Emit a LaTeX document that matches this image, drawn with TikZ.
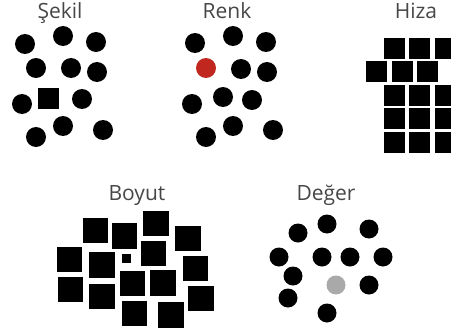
\documentclass[tikz,border=0pt]{standalone}
\usepackage{fontspec}
\setmainfont{Open Sans}
\begin{document}
\begin{tikzpicture}[x=1pt,y=-1pt,
  dot/.style={circle,fill=black,inner sep=0pt,minimum size=#1},
  dot/.default=20pt,
  sqbox/.style={rectangle,fill=black,inner sep=0pt,minimum size=#1},
  sqbox/.default=21pt,
  lbl/.style={font=\fontsize{21}{24}\selectfont,text=black!72,inner sep=0pt,anchor=base}]
\useasboundingbox (0,0) rectangle (451,335);
\clip (0,0) rectangle (451,335);
\definecolor{redc}{HTML}{C0271F}
\definecolor{grayc}{HTML}{A9A9A9}
% Sekil
\node[lbl] (t1) at (60,18.5) {Şekil};
\node[dot] (s1) at (25,44) {};
\node[dot] (s2) at (63,36) {};
\node[dot] (s3) at (96,42) {};
\node[dot] (s4) at (36,68) {};
\node[dot] (s5) at (71,68) {};
\node[dot] (s6) at (97,72) {};
\node[dot] (s7) at (22,104) {};
\node[sqbox] (s8) at (48,98) {};
\node[dot] (s9) at (82,99) {};
\node[dot] (s10) at (63,126) {};
\node[dot] (s11) at (36,137) {};
\node[dot] (s12) at (103,130) {};
% Renk
\node[lbl] (t2) at (227,18.5) {Renk};
\node[dot] (r1) at (195,43) {};
\node[dot] (r2) at (233,36) {};
\node[dot] (r3) at (266,42) {};
\node[dot,fill=redc] (r4) at (206,68) {};
\node[dot] (r5) at (241,69) {};
\node[dot] (r6) at (267,72) {};
\node[dot] (r7) at (192,104) {};
\node[dot] (r8) at (223,97) {};
\node[dot] (r9) at (252,100) {};
\node[dot] (r10) at (233,126) {};
\node[dot] (r11) at (206,137) {};
\node[dot] (r12) at (273,130) {};
% Hiza
\node[lbl] (t3) at (416,18.5) {Hiza};
\foreach \c/\x in {a/394.5,b/419.5,c/445.5}{
  \node[sqbox] (h1\c) at (\x,48.5) {};
  \node[sqbox] (h3\c) at (\x,95.5) {};
  \node[sqbox] (h4\c) at (\x,118.5) {};
  \node[sqbox] (h5\c) at (\x,142) {};
}
\foreach \c/\x in {a/376.5,b/402.5,c/427.5}{
  \node[sqbox] (h2\c) at (\x,71.5) {};
}
% Boyut
\node[lbl] (t4) at (137,200) {Boyut};
\node[sqbox=25.5pt] (b1) at (95.5,230.5) {};
\node[sqbox=25.5pt] (b2) at (124.5,236) {};
\node[sqbox=25.5pt] (b3) at (156,223.5) {};
\node[sqbox=25.5pt] (b4) at (188,238.5) {};
\node[sqbox=25.5pt] (b5) at (69.5,259.5) {};
\node[sqbox=25.5pt] (b6) at (102,265) {};
\node[sqbox=9pt] (b7) at (126.5,258.5) {};
\node[sqbox=25.5pt] (b8) at (153.5,253.5) {};
\node[sqbox=25.5pt] (b9) at (195.5,268.5) {};
\node[sqbox=25.5pt] (b10) at (70.5,289.5) {};
\node[sqbox=25.5pt] (b11) at (102,296.5) {};
\node[sqbox=25.5pt] (b12) at (132.5,283.5) {};
\node[sqbox=25.5pt] (b13) at (163,283) {};
\node[sqbox=25.5pt] (b14) at (201,298.5) {};
\node[sqbox=25.5pt] (b15) at (134.5,313.5) {};
\node[sqbox=25.5pt] (b16) at (171,315) {};
% Deger
\node[lbl] (t5) at (326,200) {Değer};
\node[dot=19pt] (d1) at (298,233) {};
\node[dot=19pt] (d2) at (327,224) {};
\node[dot=19pt] (d3) at (369,229) {};
\node[dot=19pt] (d4) at (279,257) {};
\node[dot=19pt] (d5) at (322,257) {};
\node[dot=19pt] (d6) at (350,257) {};
\node[dot=19pt] (d7) at (383,257) {};
\node[dot=19pt] (d8) at (293,276) {};
\node[dot=19pt,fill=grayc] (d9) at (336,285) {};
\node[dot=19pt] (d10) at (369,285) {};
\node[dot=19pt] (d11) at (288,298) {};
\node[dot=19pt] (d12) at (327,313) {};
\end{tikzpicture}
\end{document}
